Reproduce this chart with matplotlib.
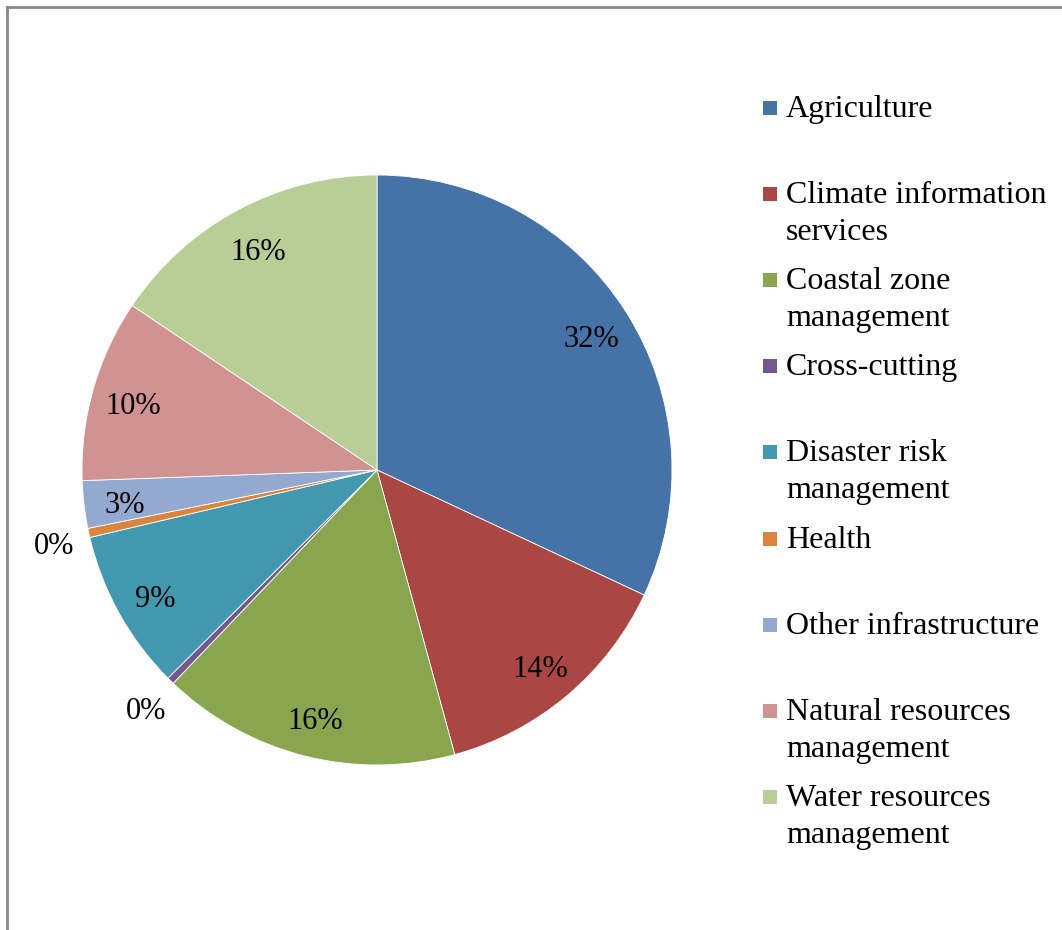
import numpy as np
import matplotlib
matplotlib.use('Agg')
import matplotlib.pyplot as plt
from matplotlib.lines import Line2D
from matplotlib.patches import Rectangle

plt.rcParams['font.family'] = ['Liberation Serif', 'DejaVu Serif']

# sector shares (percent)
sectors = ['Agriculture', 'Climate information\nservices', 'Coastal zone\nmanagement',
           'Cross-cutting', 'Disaster risk\nmanagement', 'Health', 'Other infrastructure',
           'Natural resources\nmanagement', 'Water resources\nmanagement']
shares = [32.0, 13.8, 16.4, 0.4, 8.8, 0.5, 2.6, 10.0, 15.6]
colors = ['#4572A7', '#AA4643', '#89A54E', '#71588F', '#4198AF',
          '#DB843D', '#93A9CF', '#D19392', '#B9CD96']

W, H = 1062, 930
fig = plt.figure(figsize=(W / 100, H / 100), dpi=100)

# pie axes: centre (377, 470) px, radius 295 px
cx, cy, r = 377, 470, 295
ax = fig.add_axes([(cx - r) / W, (H - cy - r) / H, 2 * r / W, 2 * r / H])
wedges, _ = ax.pie(shares, colors=colors, startangle=90, counterclock=False,
                   radius=1, wedgeprops=dict(edgecolor='white', linewidth=0.6))
ax.set_xlim(-1, 1)
ax.set_ylim(-1, 1)
ax.set_aspect('equal')
ax.axis('off')

total = sum(shares)
for w, v in zip(wedges, shares):
    mid = np.deg2rad((w.theta1 + w.theta2) / 2)
    d = 1.12 if v / total * 100 < 1 else 0.86
    ax.text(d * np.cos(mid), d * np.sin(mid) - 0.02, f"{v / total * 100:.0f}%",
            ha='center', va='center', fontsize=22, color='black', clip_on=False)

# legend drawn by hand to keep Excel-style spacing
y0, step = 108, 86.1
for i, (lab, c) in enumerate(zip(sectors, colors)):
    yc = y0 + i * step
    fig.add_artist(Rectangle((763 / W, 1 - (yc + 7) / H), 14 / W, 14 / H,
                             transform=fig.transFigure, facecolor=c, edgecolor='none'))
    fig.text(786 / W, 1 - (yc + 9) / H, lab.split('\n')[0], ha='left',
             va='baseline', fontsize=23)
    if '\n' in lab:
        fig.text(786 / W, 1 - (yc + 46) / H, lab.split('\n')[1], ha='left',
                 va='baseline', fontsize=23)

# outer frame (top and left edges visible)
fig.add_artist(Line2D([7 / W, 7 / W], [0, 1 - 7 / H], color='#888888', lw=2,
                      transform=fig.transFigure))
fig.add_artist(Line2D([7 / W, 1], [1 - 7 / H, 1 - 7 / H], color='#888888', lw=2,
                      transform=fig.transFigure))

fig.savefig('out.png', dpi=100, facecolor='white')
